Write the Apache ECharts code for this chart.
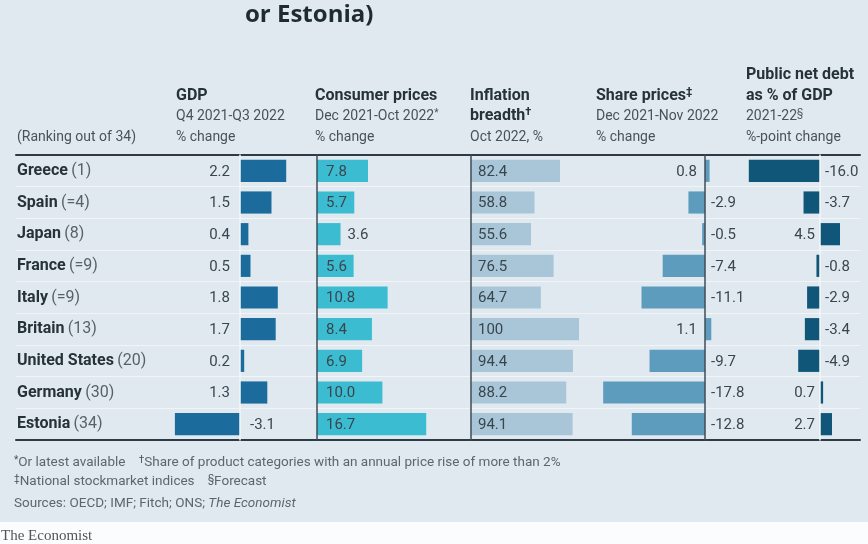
<!DOCTYPE html>
<html><head><meta charset="utf-8">
<script src="https://cdn.jsdelivr.net/npm/echarts@6/dist/echarts.min.js"></script>
<style>html,body{margin:0;padding:0;background:#e1e9f0}#c{width:868px;height:544px}</style>
</head><body><div id="c"></div>
<script>
const countries = ['Greece','Spain','Japan','France','Italy','Britain','United States','Germany','Estonia'];
const ranks = ['(1)','(=4)','(8)','(=9)','(=9)','(13)','(20)','(30)','(34)'];
const gdp = [2.2,1.5,0.4,0.5,1.8,1.7,0.2,1.3,-3.1];
const cpi = [7.8,5.7,3.6,5.6,10.8,8.4,6.9,10.0,16.7];
const breadth = [82.4,58.8,55.6,76.5,64.7,100,94.4,88.2,94.1];
const shares = [0.8,-2.9,-0.5,-7.4,-11.1,1.1,-9.7,-17.8,-12.8];
const debt = [-16.0,-3.7,4.5,-0.8,-2.9,-3.4,-4.9,0.7,2.7];

const FONT = 'Roboto, "Noto Sans", sans-serif';
const TXT = '#3a464f';
const TOP = 155, BOTTOM = 104;

function fmt(v){ return (Math.abs(v) >= 100) ? String(v) : v.toFixed(1); }

function renderer(color, mode, gapPos, gapNeg, thresh) {
  return function (params, api) {
    const v = api.value(0), c = api.value(1);
    const p0 = api.coord([0, c]);
    const p1 = api.coord([v, c]);
    const band = api.size([0, 1])[1];
    const h = band * 0.7;
    const x = Math.min(p0[0], p1[0]);
    const w = Math.abs(p1[0] - p0[0]);
    const children = [{
      type: 'rect',
      shape: { x: x, y: p0[1] - h / 2, width: w, height: h },
      style: { fill: color }
    }];
    let tx, align;
    if (mode === 'opp') {
      if (v >= 0) { tx = p0[0] - gapPos; align = 'right'; }
      else { tx = p0[0] + gapNeg; align = 'left'; }
    } else {
      if (w >= thresh) { tx = p0[0] + gapPos; align = 'left'; }
      else { tx = p1[0] + gapNeg; align = 'left'; }
    }
    children.push({
      type: 'text',
      style: { text: fmt(v), x: tx, y: p0[1] + 1, align: align, verticalAlign: 'middle',
               fill: TXT, font: '15px ' + FONT }
    });
    return { type: 'group', children: children };
  };
}

function pairs(arr){ return arr.map((v, i) => [v, i]); }

function colGrid(zero, scale, min, max) {
  return { top: TOP, bottom: BOTTOM, left: zero + min * scale, width: (max - min) * scale };
}

const grids = [
  { top: TOP, bottom: BOTTOM, left: 16, right: 8 },
  colGrid(240, 21, -4, 3),
  colGrid(317, 6.54, 0, 20),
  colGrid(471, 1.08, 0, 100),
  colGrid(705, 5.72, -20, 5),
  colGrid(820, 4.45, -20, 10)
];
const ranges = [[0,1],[-4,3],[0,20],[0,100],[-20,5],[-20,10]];
const axisLineColors = [null, '#f3f6f9', '#3e4c57', '#3e4c57', '#3e4c57', '#f3f6f9'];

const xAxes = [], yAxes = [];
ranges.forEach((r, i) => {
  xAxes.push({ type: 'value', gridIndex: i, min: r[0], max: r[1], show: i === 0,
    position: 'bottom', axisLine: { show: true, onZero: false, lineStyle: { color: '#2e3b45', width: 2 } },
    axisTick: { show: false }, axisLabel: { show: false }, splitLine: { show: false } });
  yAxes.push({ type: 'category', gridIndex: i, data: countries, inverse: true,
    axisTick: { show: false },
    axisLabel: i === 0 ? { show: true, inside: true, margin: 1,
      formatter: (val, idx) => '{b|' + val + '} {r|' + ranks[idx] + '}',
      rich: { b: { fontFamily: FONT, fontWeight: 'bold', fontSize: 16, color: '#26323a' },
              r: { fontFamily: FONT, fontSize: 16, color: '#56626b' } } } : { show: false },
    axisLine: i === 0 ? { show: false } : { show: true, onZero: true,
      lineStyle: { color: axisLineColors[i], width: 1.5 } },
    splitLine: i === 0 ? { show: true, lineStyle: { color: '#f1f5f8', width: 1.2 } } : { show: false },
    z: i === 0 ? 0 : 5 });
});
// top rule of header
xAxes.push({ type: 'value', gridIndex: 0, min: 0, max: 1, position: 'top',
  axisLine: { show: true, onZero: false, lineStyle: { color: '#2e3b45', width: 2 } },
  axisTick: { show: false }, axisLabel: { show: false }, splitLine: { show: false } });

const series = [
  { type: 'custom', xAxisIndex: 1, yAxisIndex: 1, data: pairs(gdp), encode: { x: 0, y: 1 },
    renderItem: renderer('#1b6c9c', 'opp', 10, 10) , z: 3},
  { type: 'custom', xAxisIndex: 2, yAxisIndex: 2, data: pairs(cpi), encode: { x: 0, y: 1 },
    renderItem: renderer('#3bbcd0', 'in', 9, 7, 30), z: 3 },
  { type: 'custom', xAxisIndex: 3, yAxisIndex: 3, data: pairs(breadth), encode: { x: 0, y: 1 },
    renderItem: renderer('#a9c6d8', 'in', 7, 7, 30), z: 3 },
  { type: 'custom', xAxisIndex: 4, yAxisIndex: 4, data: pairs(shares), encode: { x: 0, y: 1 },
    renderItem: renderer('#5d9cbd', 'opp', 8, 6), z: 3 },
  { type: 'custom', xAxisIndex: 5, yAxisIndex: 5, data: pairs(debt), encode: { x: 0, y: 1 },
    renderItem: renderer('#0f5678', 'opp', 5, 5), z: 3 }
];

function t(x, y, text, font, fill, rich) {
  const st = { text: text, x: x, y: y, font: font, fill: fill || '#26323a', verticalAlign: 'middle', align: 'left' };
  if (rich) st.rich = rich;
  return { type: 'text', style: st, z: 10 };
}
const HB = 'bold 16px ' + FONT, HS = '14px ' + FONT, SUBC = '#46535c';
const supRich = { s: { fontFamily: FONT, fontSize: 10, verticalAlign: 'top', fill: SUBC, padding: [0,0,6,0] },
                  sb: { fontFamily: FONT, fontSize: 11, fontWeight: 'bold', fill: '#26323a', padding: [0,0,7,0] } };
const FN = '13.5px ' + FONT, FNC = '#5b676f';
const graphic = [
  { type: 'rect', shape: { x: 0, y: 522, width: 868, height: 22 }, style: { fill: '#fbfcfd' }, z: 1 },
  t(245, 15, 'or Estonia)', 'bold 24px "Open Sans", ' + FONT, '#1f2b33'),
  t(17, 137, '(Ranking out of 34)', HS, SUBC),
  t(176, 96, 'GDP', HB),
  t(176, 116, 'Q4 2021-Q3 2022', HS, SUBC),
  t(176, 137, '% change', HS, SUBC),
  t(315, 96, 'Consumer prices', HB),
  t(315, 116, 'Dec 2021-Oct 2022{s|*}', HS, SUBC, supRich),
  t(315, 137, '% change', HS, SUBC),
  t(470, 96, 'Inflation', HB),
  t(470, 116, 'breadth{sb|†}', HB, '#26323a', supRich),
  t(470, 137, 'Oct 2022, %', HS, SUBC),
  t(596, 96, 'Share prices{sb|‡}', HB, '#26323a', supRich),
  t(596, 116, 'Dec 2021-Nov 2022', HS, SUBC),
  t(596, 137, '% change', HS, SUBC),
  t(746, 75, 'Public net debt', HB),
  t(746, 96, 'as % of GDP', HB),
  t(746, 116, '2021-22{s|§}', HS, SUBC, supRich),
  t(746, 137, '%-point change', HS, SUBC),
  t(14, 463, '{s|*}Or latest available    {s|†}Share of product categories with an annual price rise of more than 2%', FN, FNC, supRich),
  t(14, 482, '{s|‡}National stockmarket indices    {s|§}Forecast', FN, FNC, supRich),
  t(14, 504, 'Sources: OECD; IMF; Fitch; ONS; {i|The Economist}', FN, FNC,
    { i: { fontFamily: FONT, fontSize: 13.5, fontStyle: 'italic', fill: FNC } }),
  t(1, 536, 'The Economist', '15px "Liberation Serif", "DejaVu Serif", serif', '#555555')
];

const chart = echarts.init(document.getElementById('c'), null, { renderer: 'canvas' });
chart.setOption({
  backgroundColor: '#e1e9f0',
  animation: false,
  grid: grids,
  xAxis: xAxes,
  yAxis: yAxes,
  series: series,
  graphic: graphic
});
</script></body></html>
